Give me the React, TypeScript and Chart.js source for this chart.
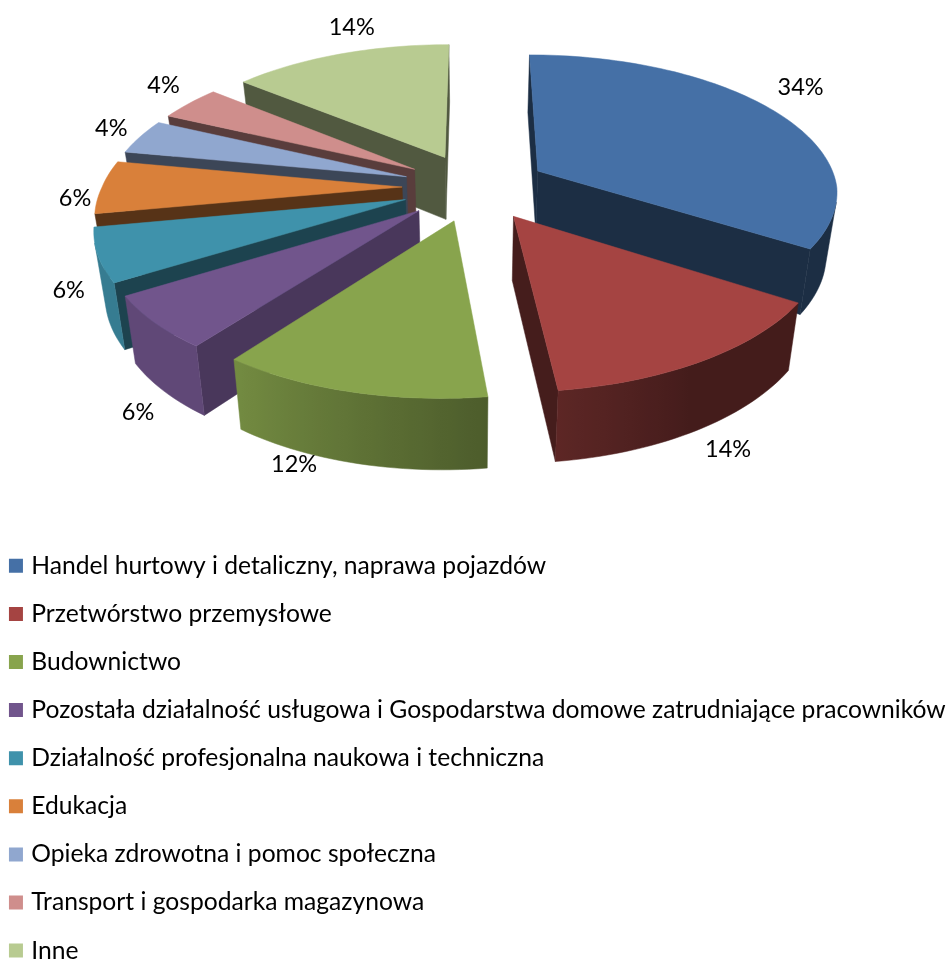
import React, { useEffect, useRef } from "react";
import { Chart, registerables } from "chart.js";

Chart.register(...registerables);

const categories = [
  "Handel hurtowy i detaliczny, naprawa pojazdów",
  "Przetwórstwo przemysłowe",
  "Budownictwo",
  "Pozostała działalność usługowa i Gospodarstwa domowe zatrudniające pracowników",
  "Działalność profesjonalna naukowa i techniczna",
  "Edukacja",
  "Opieka zdrowotna i pomoc społeczna",
  "Transport i gospodarka magazynowa",
  "Inne",
];
const shares = [34, 14, 12, 6, 6, 6, 4, 4, 14];
const colors = ["#4570a6", "#a54442", "#88a44d", "#71558c", "#3f92ab", "#d9803a", "#90a7cf", "#cf8e8c", "#b8cb91"];
const radialShade = [0.41, 0.42, 0.42, 0.65, 0.46, 0.4, 0.42, 0.43, 0.44];
const labelNudgeX = [-2, 3, -44, 12, 1, 12, 4, 1, 24];
const labelNudgeY = [-16, -4, -27, 4, -39, 11, -3, -10, -15];

const FONT = "Lato, Carlito, Calibri, sans-serif";
const RADIUS = 300;
const SCENE_X = 475;
const SCENE_Y = 187;
const EXPLODE = 0.243;
const DIST = 6.5;
const TILT = 0.462;
const THICK = 63;
const SHRINK = 0.97;
const SHEAR = 0.03;

function hexRgb(h: string) {
  return [1, 3, 5].map((i) => parseInt(h.slice(i, i + 2), 16));
}
function shadeColor(h: string, k: number) {
  const [r, g, b] = hexRgb(h);
  return `rgb(${Math.round(r * k)},${Math.round(g * k)},${Math.round(b * k)})`;
}
function wallShade(topAngleDeg: number) {
  if (topAngleDeg <= 150) return 0.41;
  if (topAngleDeg >= 216) return 0.85;
  return 0.41 + ((topAngleDeg - 150) / 66) * 0.44;
}

type P = [number, number];

function project(u: number, v: number, R: number, low: boolean): P {
  const d = DIST * R;
  const f = d / (d - v);
  const g = low ? SHRINK : 1;
  const shear = SHEAR * Math.max(v, 0);
  return [SCENE_X + u * f * g - shear, SCENE_Y + TILT * v * f * g + (low ? THICK * f : 0)];
}

function area(pts: P[]) {
  let s = 0;
  for (let i = 0; i < pts.length; i++) {
    const a = pts[i];
    const b = pts[(i + 1) % pts.length];
    s += a[0] * b[1] - b[0] * a[1];
  }
  return s / 2;
}

function fillPoly(ctx: CanvasRenderingContext2D, pts: P[], color: string | CanvasGradient) {
  ctx.beginPath();
  pts.forEach((p, i) => (i ? ctx.lineTo(p[0], p[1]) : ctx.moveTo(p[0], p[1])));
  ctx.closePath();
  ctx.fillStyle = color;
  ctx.strokeStyle = color;
  ctx.lineWidth = 0.5;
  ctx.fill();
  ctx.stroke();
}

const pie3d = {
  id: "pie3d",
  afterLayout(chart: any) {
    const lg = chart.legend;
    if (lg) {
      lg.left = -10.5;
      lg.right = 949;
      lg.top = 530;
      lg.bottom = 1200;
    }
  },
  beforeDatasetsDraw(chart: any) {
    const ctx: CanvasRenderingContext2D = chart.ctx;
    const arcs: any[] = chart.getDatasetMeta(0).data;
    const slices = arcs.map((arc, i) => {
      const R = arc.outerRadius;
      const a0 = arc.startAngle;
      const a1 = arc.endAngle;
      const mid = (a0 + a1) / 2;
      const e = EXPLODE * R;
      const ox = Math.cos(mid) * e;
      const oy = Math.sin(mid) * e;
      return { i, R, a0, a1, mid, ox, oy, depth: oy + 0.6 * R * Math.sin(mid) };
    });
    const order = [...slices].sort((a, b) => a.depth - b.depth);
    for (const s of order) {
      const color = colors[s.i];
      const n = Math.max(6, Math.round(((s.a1 - s.a0) * 180) / Math.PI / 1.5));
      const rim: [number, number, number][] = [];
      for (let k = 0; k <= n; k++) {
        const t = s.a0 + ((s.a1 - s.a0) * k) / n;
        rim.push([s.ox + Math.cos(t) * s.R, s.oy + Math.sin(t) * s.R, t]);
      }
      const hi = (u: number, v: number) => project(u, v, s.R, false);
      const lo = (u: number, v: number) => project(u, v, s.R, true);
      const first = rim[0];
      const last = rim[rim.length - 1];
      const walls: P[][] = [
        [hi(first[0], first[1]), hi(s.ox, s.oy), lo(s.ox, s.oy), lo(first[0], first[1])],
        [hi(s.ox, s.oy), hi(last[0], last[1]), lo(last[0], last[1]), lo(s.ox, s.oy)],
      ];
      const rad = shadeColor(color, radialShade[s.i]);
      for (const w of walls) if (area(w) > 0) fillPoly(ctx, w, rad);

      const seen: number[] = [];
      for (let k = 0; k < n; k++) {
        const a = rim[k];
        const b = rim[k + 1];
        const q: P[] = [hi(b[0], b[1]), hi(a[0], a[1]), lo(a[0], a[1]), lo(b[0], b[1])];
        if (area(q) > 0) seen.push(k);
      }
      if (seen.length) {
        const idx = [...seen, seen[seen.length - 1] + 1];
        const upper = idx.map((k) => hi(rim[k][0], rim[k][1]));
        const lower = idx.map((k) => lo(rim[k][0], rim[k][1]));
        const x0 = Math.min(...upper.map((p) => p[0]));
        const x1 = Math.max(...upper.map((p) => p[0]));
        const grad = ctx.createLinearGradient(x0, 0, x1, 0);
        const stops = idx
          .map((k, j) => ({
            pos: (upper[j][0] - x0) / Math.max(x1 - x0, 1),
            col: shadeColor(color, wallShade(((rim[k][2] + Math.PI / 2) * 180) / Math.PI)),
          }))
          .sort((p, q) => p.pos - q.pos);
        stops.forEach((st) => grad.addColorStop(st.pos, st.col));
        fillPoly(ctx, [...upper, ...lower.reverse()], grad);
      }
      const top: P[] = [hi(s.ox, s.oy), ...rim.map((p) => hi(p[0], p[1]))];
      fillPoly(ctx, top, color);
    }
    ctx.save();
    ctx.font = `23.5px ${FONT}`;
    ctx.fillStyle = "#000";
    ctx.textAlign = "center";
    ctx.textBaseline = "middle";
    for (const s of slices) {
      const lr = s.R * 1.13;
      const u = s.ox + Math.cos(s.mid) * lr;
      const v = s.oy + Math.sin(s.mid) * lr;
      const p = project(u, v, s.R, Math.sin(s.mid) > 0.3);
      ctx.fillText(`${shares[s.i]}%`, p[0] + labelNudgeX[s.i], p[1] + labelNudgeY[s.i]);
    }
    ctx.restore();
    return false;
  },
};

export default function App() {
  const ref = useRef<HTMLCanvasElement>(null);
  useEffect(() => {
    const chart = new Chart(ref.current!, {
      type: "pie",
      data: {
        labels: categories,
        datasets: [{ data: shares, backgroundColor: colors, borderWidth: 0 }],
      },
      options: {
        animation: false,
        responsive: false,
        radius: RADIUS,
        plugins: {
          tooltip: { enabled: false },
          legend: {
            position: "chartArea",
            align: "start",
            labels: {
              color: "#000",
              font: { family: FONT, size: 24.65 },
              usePointStyle: true,
              pointStyle: "rect",
              boxWidth: 6,
              boxHeight: 14,
              padding: 23.45,
            },
          },
        },
      },
      plugins: [pie3d],
    } as any);
    return () => chart.destroy();
  }, []);
  return (
    <canvas
      ref={ref}
      width={949}
      height={960}
      style={{ position: "absolute", left: 0, top: 0, width: 949, height: 960 }}
    />
  );
}
